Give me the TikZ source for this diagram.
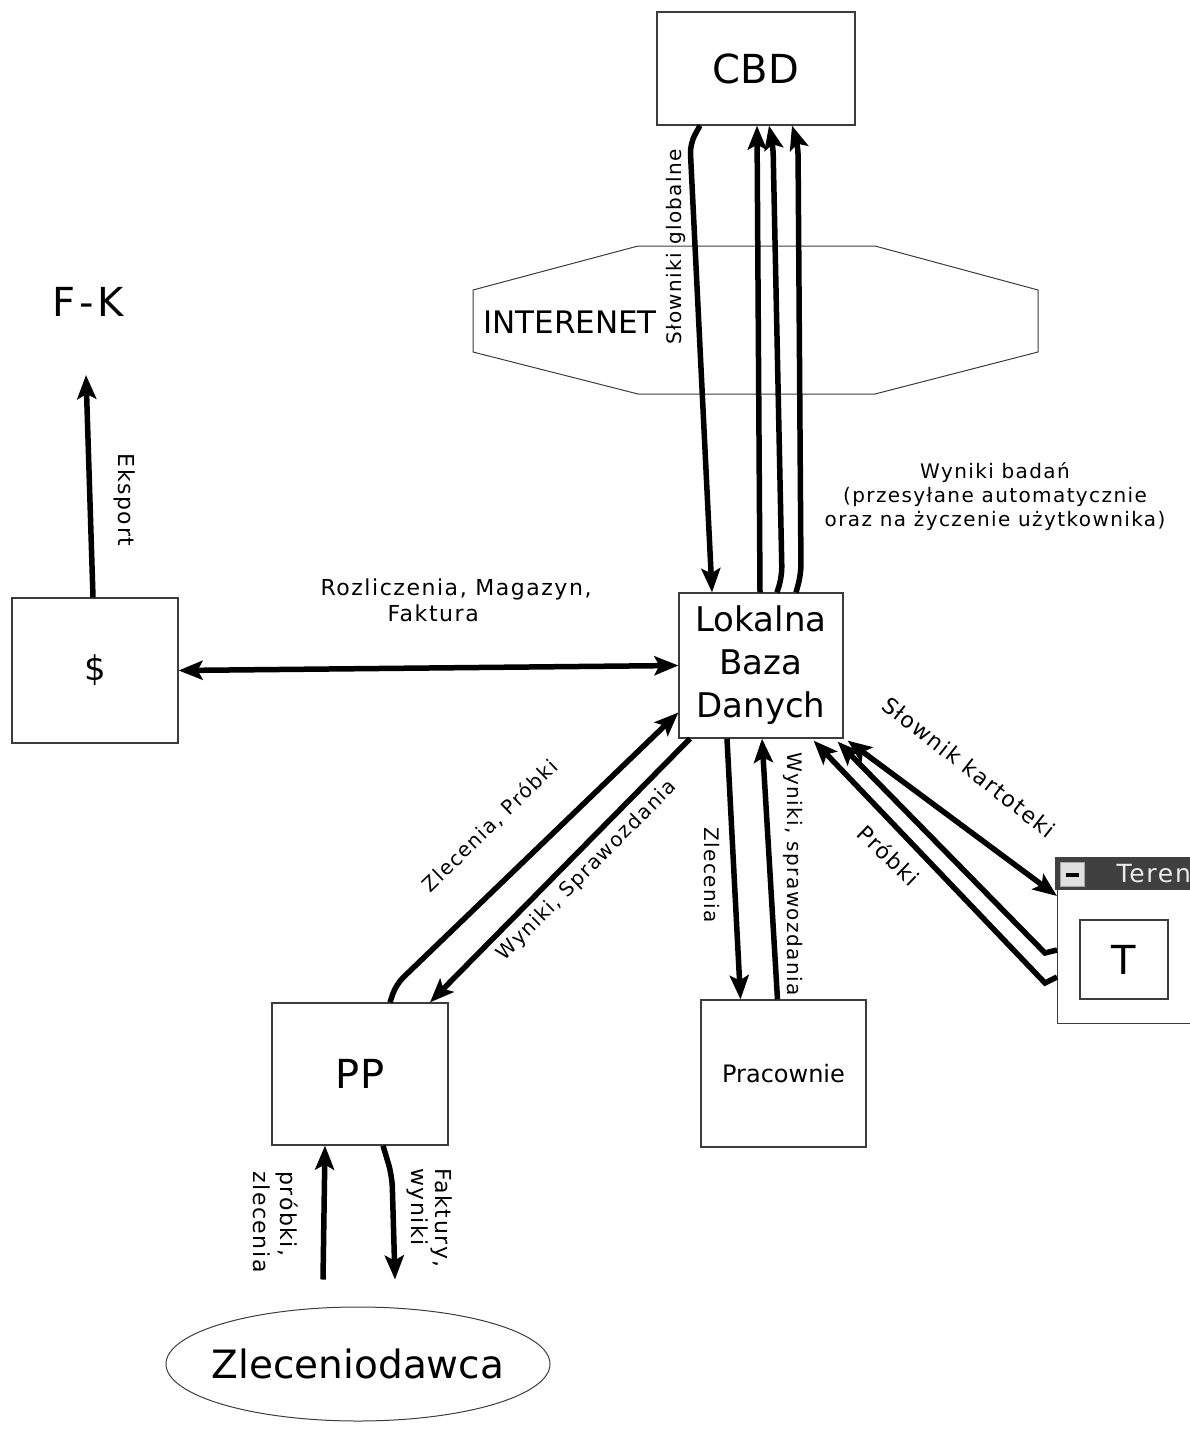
\documentclass[tikz,border=0pt]{standalone}
\usepackage{fontspec}
\setmainfont{DejaVu Sans}
\newfontfamily\lblfont{DejaVu Sans}[LetterSpace=7]
\newfontfamily\wideFont{DejaVu Sans}[LetterSpace=10]
\usetikzlibrary{arrows.meta, shapes.geometric}
\definecolor{boxgray}{RGB}{60,60,60}
\definecolor{bargray}{RGB}{64,64,64}

\begin{document}
\begin{tikzpicture}[x=1pt, y=-1pt,
  box/.style={draw=boxgray, line width=1.2pt, inner sep=0pt},
  flow/.style={line width=5.5pt, -{Stealth[length=24pt, width=19pt, inset=5pt]}},
  both/.style={line width=5.5pt, {Stealth[length=24pt, width=19pt, inset=5pt]}-{Stealth[length=24pt, width=19pt, inset=5pt]}},
  lbl/.style={font=\lblfont\fontsize{20}{24}\selectfont, inner sep=0pt},
  lblb/.style={font=\lblfont\fontsize{22}{26}\selectfont, inner sep=0pt},
]
  \useasboundingbox (0,0) rectangle (1190,1434);

  % Internet
  \draw[boxgray, line width=1pt] (473,290) -- (638,246) -- (875,246) -- (1038,290) -- (1038,352)
    -- (875,394) -- (638,394) -- (473,352) -- cycle;
  \node[font=\fontsize{31}{36}\selectfont] (net) at (570,322) {INTERENET};

  % Boxes
  \node[box, minimum width=198, minimum height=113, font=\fontsize{40}{48}\selectfont] (cbd) at (756,68.5) {CBD};
  \node[box, minimum width=164, minimum height=145, align=center, font=\fontsize{34}{43}\selectfont] (lbd) at (761,665.5) {Lokalna\\Baza\\Danych};
  \node[box, minimum width=166, minimum height=145, font=\fontsize{34}{40}\selectfont] (dollar) at (95,670.5) {\$};
  \node[font=\wideFont\fontsize{40}{48}\selectfont] (fk) at (88,302) {F-K};
  \node[box, minimum width=176, minimum height=142, font=\fontsize{40}{46}\selectfont] (pp) at (360,1074) {PP};
  \node[box, minimum width=165, minimum height=147, font=\fontsize{24}{28}\selectfont] (prac) at (783.5,1073.5) {Pracownie};
  \node[ellipse, draw=boxgray, line width=1pt, minimum width=384, minimum height=114, inner sep=0pt] (zl) at (358,1364) {};
  \node[font=\fontsize{39}{46}\selectfont] (zltext) at (zl) {Zleceniodawca};

  % Teren window
  \node[box, anchor=north west, minimum width=160, minimum height=166] (teren) at (1057,857) {};
  \node[fill=bargray, anchor=north west, minimum width=145, minimum height=33, inner sep=0pt] (bar) at (1055,857) {};
  \node[fill=gray!25, draw=gray!70, line width=1pt, minimum size=24, inner sep=0pt] (btn) at (1072.5,874.5) {};
  \node[fill=black, minimum width=13, minimum height=4, inner sep=0pt] (btnbar) at (btn) {};
  \node[anchor=west, text=gray!15, font=\lblfont\fontsize{25}{28}\selectfont] (tname) at (1113,874) {Teren};
  \node[box, minimum width=88, minimum height=79, font=\fontsize{40}{48}\selectfont] (tbox) at (1124,959.5) {T};

  % CBD <-> LBD
  \draw[flow, rounded corners=10] ([xshift=-56]cbd.south) -- ++(-10,18) -- ([xshift=-49]lbd.north);
  \draw[flow] ([xshift=-1]lbd.north) -- ([xshift=1]cbd.south);
  \draw[flow, rounded corners=10] ([xshift=16]lbd.north) -- ++(5,-16) -- (773,145) -- ([xshift=13]cbd.south);
  \draw[flow, rounded corners=10] ([xshift=35]lbd.north) -- ++(5,-18) -- (798,145) -- ([xshift=36]cbd.south);
  \node[lbl, rotate=90] (sg) at (676,247) {Słowniki globalne};
  \node[lbl, align=center] (wb) at (995,497) {Wyniki badań\\(przesyłane automatycznie\\oraz na życzenie użytkownika)};

  % $ and F-K
  \coordinate (fkin) at (86,375);
  \draw[flow] ([xshift=-2]dollar.north) -- (fkin);
  \node[lblb, rotate=-90] (eks) at (125,500) {Eksport};
  \draw[both] (dollar.east) -- (lbd.west);
  \node[lblb, align=left] (rmf) at (456,600) {Rozliczenia, Magazyn,\\\hspace*{67pt}Faktura};

  % PP <-> LBD
  \draw[flow, rounded corners=10] ([xshift=30]pp.north) -- ++(6,-18) -- ([yshift=-47]lbd.west);
  \draw[flow] ([xshift=-71]lbd.south) -- ([xshift=70]pp.north);
  \node[lbl, rotate=44] (zp) at (490,826) {Zlecenia, Próbki};
  \node[lbl, rotate=45] (ws) at (587,871) {Wyniki, Sprawozdania};

  % Pracownie <-> LBD
  \draw[flow] ([xshift=-34]lbd.south) -- ([xshift=-43]prac.north);
  \draw[flow] ([xshift=-6]prac.north) -- ([xshift=1]lbd.south);
  \node[lbl, rotate=-90] (zc) at (712,875) {Zlecenia};
  \node[lbl, rotate=-90] (wsp) at (793,874) {Wyniki, sprawozdania};

  % Teren <-> LBD
  \draw[both] ([xshift=4,yshift=-2]lbd.south east) -- ([yshift=-39]teren.north west);
  \draw[flow] ([yshift=-93]teren.north west) -- ++(-12,3) -- ([xshift=-6,yshift=-3]lbd.south east);
  \draw[flow] ([yshift=-120]teren.north west) -- ++(-12,6) -- ([xshift=-30,yshift=-2]lbd.south east);
  \node[lblb, rotate=-38] (sk) at (969,767) {Słownik kartoteki};
  \node[lblb, rotate=-44] (pr) at (889,855) {Próbki};

  % PP <-> Zleceniodawca
  \draw[flow] ([xshift=-35,yshift=27]zl.north) -- ([xshift=-35]pp.south);
  \draw[flow, rounded corners=12] ([xshift=23]pp.south) -- ++(9,30) -- ([xshift=37,yshift=27]zl.north);
  \node[lblb, rotate=-90, align=left, font=\lblfont\fontsize{22}{27}\selectfont] (pz) at (276,1222) {próbki,\\zlecenia};
  \node[lblb, rotate=-90, align=left, font=\lblfont\fontsize{22}{24}\selectfont] (fw) at (430,1218) {Faktury,\\wyniki};

\end{tikzpicture}
\end{document}
